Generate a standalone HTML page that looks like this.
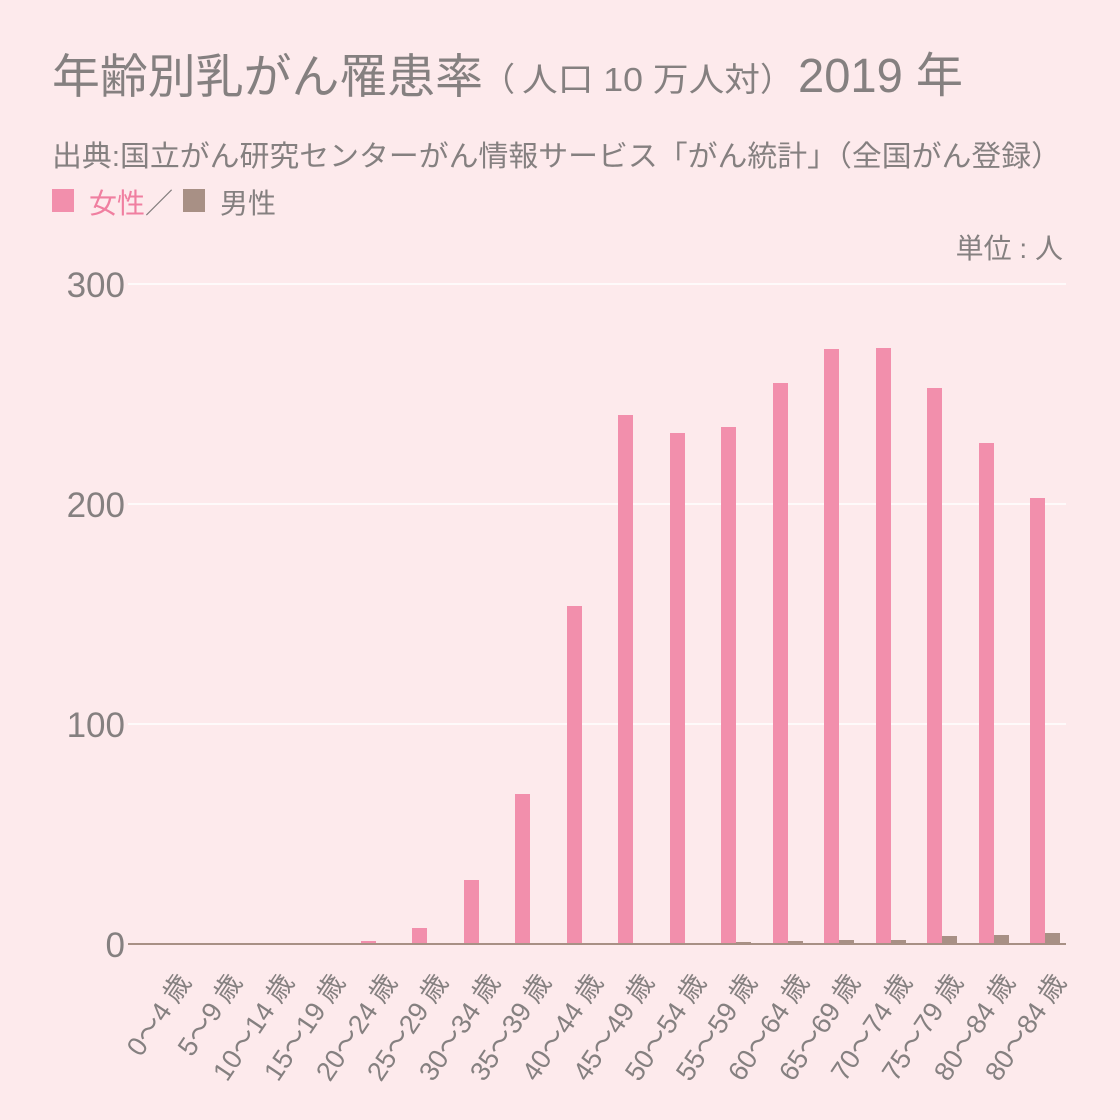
<!DOCTYPE html>
<html><head><meta charset="utf-8"><style>
html,body{margin:0;padding:0;background:#fdeaec;}
svg{display:block;font-family:"Liberation Sans","Noto Sans CJK JP",sans-serif;}
</style></head><body>
<svg width="1120" height="1120" viewBox="0 0 1120 1120" xmlns="http://www.w3.org/2000/svg">
<rect width="1120" height="1120" fill="#fdeaec"/>
<g fill="#858080">
<text x="52" y="93" font-size="47" textLength="431" lengthAdjust="spacingAndGlyphs">年齢別乳がん罹患率</text>
<text x="482" y="91" font-size="33">（</text>
<text x="522" y="91" font-size="33" textLength="238" lengthAdjust="spacingAndGlyphs">人口 10 万人対</text>
<text x="760" y="91" font-size="33">）</text>
<text x="798" y="92" font-size="48" textLength="165" lengthAdjust="spacingAndGlyphs">2019 年</text>
<text x="52" y="166" font-size="29" textLength="1009" lengthAdjust="spacingAndGlyphs">出典:国立がん研究センターがん情報サービス「がん統計」（全国がん登録）</text>
<text x="1063" y="258" font-size="28" text-anchor="end">単位 : 人</text>
</g>
<rect x="52" y="189" width="22" height="23" fill="#f28fac"/>
<text x="89" y="213" font-size="28" fill="#f07fa0">女性</text>
<text x="145" y="213" font-size="28" fill="#858080">／</text>
<rect x="183" y="189" width="22" height="23" fill="#a89085"/>
<text x="220" y="213" font-size="28" fill="#858080">男性</text>
<g stroke="#ffffff" stroke-width="1.5">
<line x1="128" y1="284" x2="1066" y2="284"/>
<line x1="128" y1="504" x2="1066" y2="504"/>
<line x1="128" y1="724" x2="1066" y2="724"/>
</g>
<g fill="#858080" font-size="35" text-anchor="end">
<text x="125" y="297">300</text>
<text x="125" y="517">200</text>
<text x="125" y="737">100</text>
<text x="125" y="957">0</text>
</g>
<g fill="#f28fac">
<rect x="361" y="941" width="15" height="3"/>
<rect x="412" y="928" width="15" height="16"/>
<rect x="464" y="880" width="15" height="64"/>
<rect x="515" y="794" width="15" height="150"/>
<rect x="567" y="606" width="15" height="338"/>
<rect x="618" y="415" width="15" height="529"/>
<rect x="670" y="433" width="15" height="511"/>
<rect x="721" y="427" width="15" height="517"/>
<rect x="773" y="383" width="15" height="561"/>
<rect x="824" y="349" width="15" height="595"/>
<rect x="876" y="348" width="15" height="596"/>
<rect x="927" y="388" width="15" height="556"/>
<rect x="979" y="443" width="15" height="501"/>
<rect x="1030" y="498" width="15" height="446"/>
</g>
<g fill="#a89085">
<rect x="582" y="943" width="15" height="1"/>
<rect x="633" y="943" width="15" height="1"/>
<rect x="685" y="943" width="15" height="1"/>
<rect x="736" y="942" width="15" height="2"/>
<rect x="788" y="941" width="15" height="3"/>
<rect x="839" y="940" width="15" height="4"/>
<rect x="891" y="940" width="15" height="4"/>
<rect x="942" y="936" width="15" height="8"/>
<rect x="994" y="935" width="15" height="9"/>
<rect x="1045" y="933" width="15" height="11"/>
</g>
<line x1="128" y1="944" x2="1066" y2="944" stroke="#a89085" stroke-width="2"/>
<g fill="#858080" font-size="27" text-anchor="end">
<text transform="translate(192,982) rotate(-56)">0〜4 歳</text>
<text transform="translate(243,982) rotate(-56)">5〜9 歳</text>
<text transform="translate(295,982) rotate(-56)">10〜14 歳</text>
<text transform="translate(346,982) rotate(-56)">15〜19 歳</text>
<text transform="translate(398,982) rotate(-56)">20〜24 歳</text>
<text transform="translate(449,982) rotate(-56)">25〜29 歳</text>
<text transform="translate(501,982) rotate(-56)">30〜34 歳</text>
<text transform="translate(552,982) rotate(-56)">35〜39 歳</text>
<text transform="translate(604,982) rotate(-56)">40〜44 歳</text>
<text transform="translate(655,982) rotate(-56)">45〜49 歳</text>
<text transform="translate(707,982) rotate(-56)">50〜54 歳</text>
<text transform="translate(758,982) rotate(-56)">55〜59 歳</text>
<text transform="translate(810,982) rotate(-56)">60〜64 歳</text>
<text transform="translate(861,982) rotate(-56)">65〜69 歳</text>
<text transform="translate(913,982) rotate(-56)">70〜74 歳</text>
<text transform="translate(964,982) rotate(-56)">75〜79 歳</text>
<text transform="translate(1016,982) rotate(-56)">80〜84 歳</text>
<text transform="translate(1067,982) rotate(-56)">80〜84 歳</text>
</g>
</svg>
</body></html>
